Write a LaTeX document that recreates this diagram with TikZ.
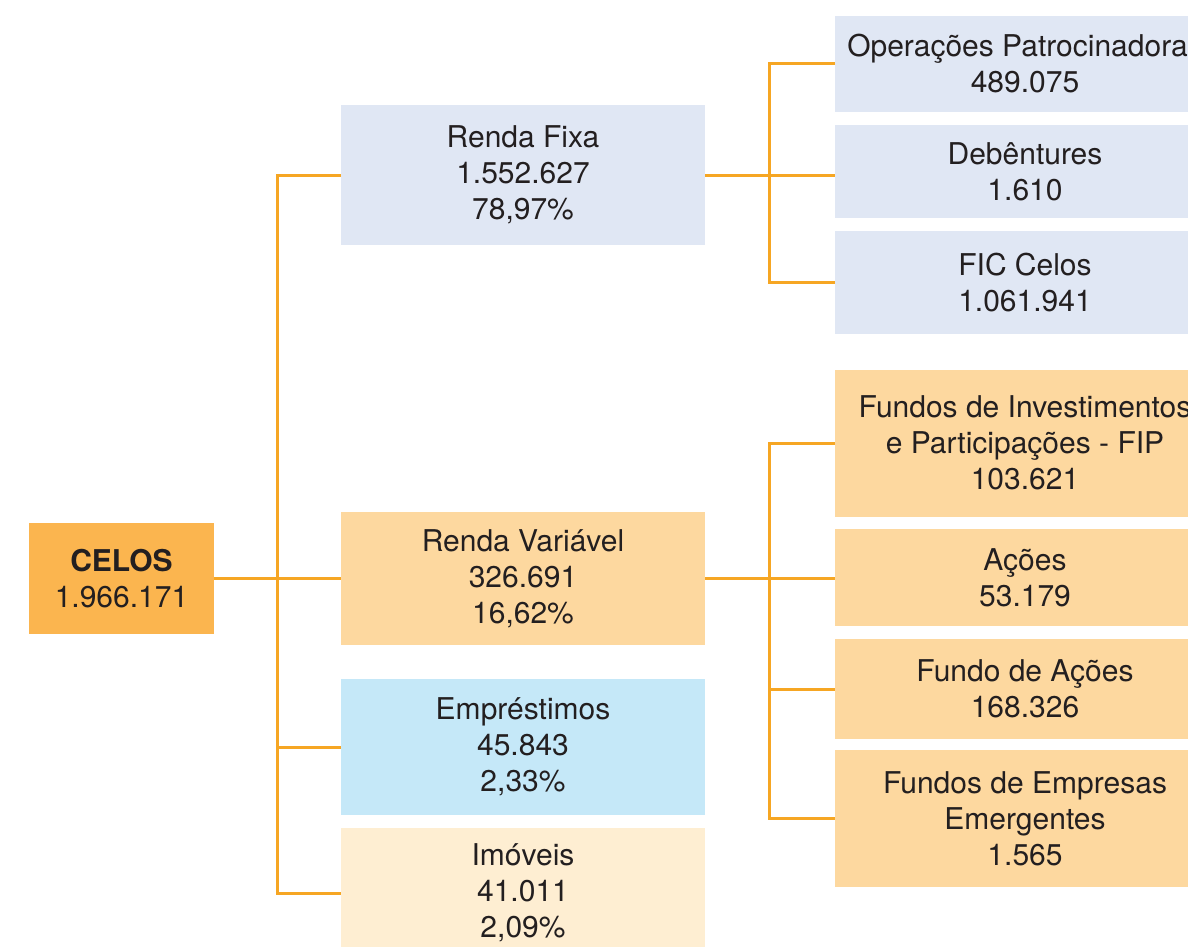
\documentclass[tikz,border=0pt]{standalone}
\usepackage{fontspec}
\setmainfont{TeX Gyre Heros}
\definecolor{txt}{HTML}{231F20}
\definecolor{ln}{HTML}{F6A623}
\definecolor{celosc}{HTML}{FBB54F}
\definecolor{rfc}{HTML}{E0E7F4}
\definecolor{rvc}{HTML}{FDD89F}
\definecolor{empc}{HTML}{C5E8F8}
\definecolor{imoc}{HTML}{FEEED2}
\begin{document}
\begin{tikzpicture}[x=1pt,y=-1pt,
  box/.style={inner sep=0pt, outer sep=0pt, align=center, font=\fontsize{30}{36}\selectfont, text=txt},
  midbox/.style={box, minimum width=364pt},
  rbox/.style={box, minimum width=380pt},
  conn/.style={draw=ln, line width=3pt}]
\useasboundingbox (0,0) rectangle (1188,947);
\clip (0,0) rectangle (1188,947);
% nodes
\node[box, fill=celosc, minimum width=185pt, minimum height=111pt] (celos) at (121.5,578.5) {\textbf{CELOS}\\1.966.171};
\node[midbox, fill=rfc, minimum height=140pt] (rf) at (523,175) {Renda Fixa\\1.552.627\\78,97\%};
\node[midbox, fill=rvc, minimum height=133pt] (rv) at (523,578.5) {Renda Variável\\326.691\\16,62\%};
\node[midbox, fill=empc, minimum height=136pt] (emp) at (523,747) {Empréstimos\\45.843\\2,33\%};
\node[midbox, fill=imoc, minimum height=130pt] (imo) at (523,893) {Imóveis\\41.011\\2,09\%};
\node[rbox, fill=rfc, minimum height=96pt] (op) at (1025,64) {Operações Patrocinadoras\\489.075};
\node[rbox, fill=rfc, minimum height=93pt] (deb) at (1025,171.5) {Debêntures\\1.610};
\node[rbox, fill=rfc, minimum height=103pt] (fic) at (1025,282.5) {FIC Celos\\1.061.941};
\node[rbox, fill=rvc, minimum height=147pt] (fip) at (1025,443) {Fundos de Investimentos\\e Participações - FIP\\103.621};
\node[rbox, fill=rvc, minimum height=97pt] (ac) at (1025,577.5) {Ações\\53.179};
\node[rbox, fill=rvc, minimum height=100pt] (fa) at (1025,689) {Fundo de Ações\\168.326};
\node[rbox, fill=rvc, minimum height=137pt] (fee) at (1025,818.5) {Fundos de Empresas\\Emergentes\\1.565};
% connectors
\coordinate (ta) at (277,0);
\coordinate (ra) at (769,0);
\draw[conn] (celos.east) -- (rv.west);
\draw[conn] (rf.west) -- (rf.west -| ta) |- (imo.west);
\draw[conn] (emp.west -| ta) -- (emp.west);
\draw[conn] (rf.east) -- (rf.east -| deb.west);
\draw[conn] (op.west) -- (op.west -| ra) |- (fic.west);
\draw[conn] (rv.east) -- (rv.east -| ac.west);
\draw[conn] (fip.west) -- (fip.west -| ra) |- (fee.west);
\draw[conn] (fa.west -| ra) -- (fa.west);
\end{tikzpicture}
\end{document}
